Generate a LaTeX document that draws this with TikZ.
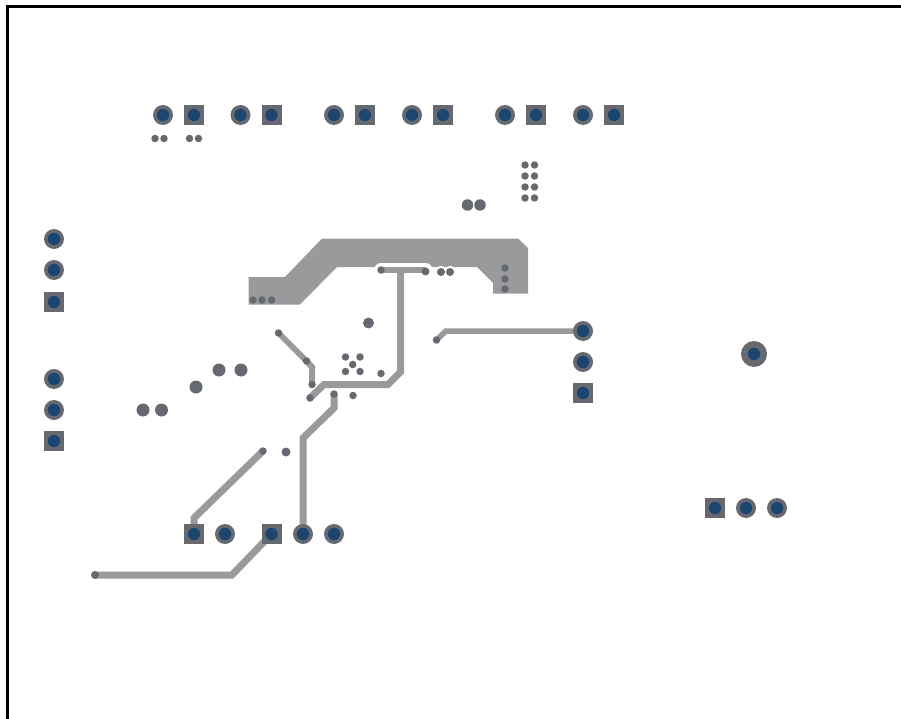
\documentclass[tikz,border=0pt]{standalone}
\usetikzlibrary{backgrounds}
\definecolor{copper}{HTML}{999A9C}
\definecolor{padgrey}{HTML}{666A70}
\definecolor{holeblue}{HTML}{1C4670}
\tikzset{
  holed/.style={path picture={\fill[holeblue] (path picture bounding box.center) circle (#1);}},
  holed/.default=6.2,
  roundpad/.style={circle,fill=padgrey,inner sep=0pt,minimum size=20pt,holed},
  squarepad/.style={rectangle,fill=padgrey,inner sep=0pt,minimum size=20pt,holed},
  bigpad/.style={circle,fill=padgrey,inner sep=0pt,minimum size=26pt,holed},
  via/.style={circle,fill=padgrey,inner sep=0pt,minimum size=#1},
  via/.default=7.5pt,
  trace/.style={draw=copper,line width=#1,line join=miter},
  trace/.default=6pt,
  plane/.style={fill=copper},
  halo/.style={draw=white,line cap=round},
  border/.style={draw=black,line width=3pt}
}
\begin{document}
\begin{tikzpicture}[x=1pt,y=-1pt]
\useasboundingbox (0,0) rectangle (901,719);
% through-hole pads: top row
\node[roundpad] (t1) at (163,115) {};
\node[squarepad] (t2) at (194,115) {};
\node[roundpad] (t3) at (240.5,115) {};
\node[squarepad] (t4) at (271.5,115) {};
\node[roundpad] (t5) at (334,115) {};
\node[squarepad] (t6) at (365,115) {};
\node[roundpad] (t7) at (412,115) {};
\node[squarepad] (t8) at (443,115) {};
\node[roundpad] (t9) at (505,115) {};
\node[squarepad] (t10) at (536,115) {};
\node[roundpad] (t11) at (583,115) {};
\node[squarepad] (t12) at (614,115) {};
% left columns
\node[roundpad] (l1) at (54,239) {};
\node[roundpad] (l2) at (54,270) {};
\node[squarepad] (l3) at (54,302) {};
\node[roundpad] (l4) at (54,379) {};
\node[roundpad] (l5) at (54,410) {};
\node[squarepad] (l6) at (54,441) {};
% right column
\node[roundpad] (r1) at (583,331) {};
\node[roundpad] (r2) at (583,362) {};
\node[squarepad] (r3) at (583,393) {};
\node[bigpad] (m1) at (754,354) {};
% bottom right
\node[squarepad] (q1) at (715,508) {};
\node[roundpad] (q2) at (746,508) {};
\node[roundpad] (q3) at (777,508) {};
% bottom row
\node[squarepad] (b1) at (194,534) {};
\node[roundpad] (b2) at (225,534) {};
\node[squarepad] (b3) at (271.5,534) {};
\node[roundpad] (b4) at (303,534) {};
\node[roundpad] (b5) at (334,534) {};
% small vias
\foreach \n/\x/\y in {a1/155/138.5,a2/164/138.5,a3/189.5/138.5,a4/198.5/138.5,
  c1/525/165,c2/534.5/165,c3/525/176,c4/534.5/176,c5/525/187,c6/534.5/187,c7/525/198,c8/534.5/198,
  p1/253/300,p2/262/300,p3/271.5/300,p4/505/268,p5/505/279,p6/505/289,
  s1/345.5/357,s2/360/357,s3/352.7/364.5,s4/345.5/371.5,s5/360/371.5,
  v3/353/395.5,v4/381/373.5,v5/278.5/333,v6/306.5/361,v7/312/384.5,v8/310/398,v9/334/394,
  v10/263/451,v12/436.5/340,v13/381/270}
  {\node[via] (\n) at (\x,\y) {};}
\node[via=8pt] (v14) at (425.5,271.5) {};
\node[via=8pt] (v15) at (441,272) {};
\node[via=8pt] (v16) at (450,272) {};
\node[via=8pt] (v17) at (95,575) {};
\node[via=9pt] (v11) at (286,452) {};
\node[via=11pt] (w1) at (368.5,323) {};
\foreach \n/\x/\y in {w2/219/370,w3/241/370,w4/196/387,w5/143/410,w6/161.5/410}
  {\node[via=13pt] (\n) at (\x,\y) {};}
\node[via=11.5pt] (w7) at (467.5,205) {};
\node[via=11.5pt] (w8) at (480,205) {};
% bend points of the traces
\coordinate (k0) at (425.5,270);
\coordinate (k1) at (400.5,270);
\coordinate (k2) at (400.5,372);
\coordinate (k3) at (388,384.5);
\coordinate (k4) at (324,384.5);
\coordinate (k5) at (312,367);
\coordinate (k6) at (334,408);
\coordinate (k7) at (303,438);
\coordinate (k8) at (194,518);
\coordinate (k9) at (232,575);
\coordinate (k10) at (446,331);
% copper, under the pads
\begin{scope}[on background layer]
  \fill[plane] (248.5,277) -- (285,277) -- (322,238.5) -- (518,238.5) -- (528,248) -- (528,293.5)
    -- (493,293.5) -- (493,283) -- (477,267) -- (337,267) -- (300,304.5) -- (248.5,304.5) -- cycle;
  \draw[halo,line width=14pt] (v13.center) -- (k0);
  \fill[white] (v15) circle (6) (v16) circle (6);
  \draw[trace] (v13.center) -- (k0);
  \draw[trace=7pt] (k1) -- (k2) -- (k3) -- (k4) -- (v8.center);
  \draw[trace] (v5.center) -- (v6.center) -- (k5) -- (v7.center);
  \draw[trace=7pt] (v9.center) -- (k6) -- (k7) -- (b4.center);
  \draw[trace=7pt] (v10.center) -- (k8) -- (b1.center);
  \draw[trace=7pt] (v17.center) -- (k9) -- (b3.center);
  \draw[trace=5.5pt] (v12.center) -- (k10) -- (r1.center);
\end{scope}
% sheet border
\coordinate (f1) at (7.5,719);
\coordinate (f2) at (7.5,6.5);
\coordinate (f3) at (901,6.5);
\draw[border] (f1) -- (f2) -- (f3);
\end{tikzpicture}
\end{document}
